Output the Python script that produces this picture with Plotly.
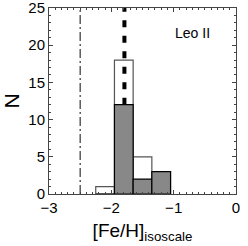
import plotly.graph_objects as go

bin_edges = [-2.25, -1.95, -1.65, -1.35, -1.05]
total_counts = [1, 18, 5, 3]
filled_counts = [0, 12, 2, 3]
mean_line_x = -1.79
dashdot_x = -2.5
label = "Leo II"

centers = [(bin_edges[i] + bin_edges[i + 1]) / 2 for i in range(len(bin_edges) - 1)]
width = bin_edges[1] - bin_edges[0]

fig = go.Figure()
fig.add_trace(go.Bar(x=centers, y=total_counts, width=width,
                     marker=dict(color="white", line=dict(color="#555", width=1.2)),
                     showlegend=False))
fig.add_trace(go.Bar(x=centers, y=filled_counts, width=width,
                     marker=dict(color="#888888", line=dict(color="black", width=1.2)),
                     showlegend=False))
fig.add_trace(go.Scatter(x=[mean_line_x, mean_line_x], y=[max(filled_counts), 25], mode="lines",
                         line=dict(color="black", width=4, dash="7px,8.5px"), showlegend=False))
fig.add_trace(go.Scatter(x=[dashdot_x, dashdot_x], y=[0, 25], mode="lines",
                         line=dict(color="#333", width=1.2, dash="9px,3px,2px,3px"), showlegend=False))

fig.add_annotation(x=-0.69, y=21.6, text=label, showarrow=False,
                   font=dict(family="Liberation Sans, Arial", size=14, color="black"))

axis_common = dict(showgrid=False, zeroline=False, showline=True, linecolor="#444", linewidth=1,
                   mirror="allticks", ticks="inside", ticklen=4, tickcolor="#444",
                   automargin=False, ticklabeloverflow="allow",
                   tickfont=dict(family="Liberation Sans, Arial", size=15, color="black"))
fig.update_xaxes(range=[-3, 0], tickvals=[-3, -2, -1, 0], ticktext=["\u22123", "\u22122", "\u22121", "0"],
                 minor=dict(dtick=0.1, ticks="inside", ticklen=2, tickcolor="#444"),
                 title=dict(text="[Fe/H]<sub>isoscale</sub>", standoff=8,
                            font=dict(family="Liberation Sans, Arial", size=19, color="black")),
                 **axis_common)
fig.update_yaxes(range=[0, 25], tickvals=[0, 5, 10, 15, 20, 25],
                 minor=dict(dtick=1, ticks="inside", ticklen=2, tickcolor="#444"),
                 title=dict(text="N", standoff=6,
                            font=dict(family="Liberation Sans, Arial", size=21, color="black")),
                 **axis_common)
fig.update_layout(width=248, height=246, barmode="overlay", bargap=0,
                  plot_bgcolor="white", paper_bgcolor="white",
                  margin=dict(l=49, r=12, t=8, b=52))
fig.write_html("out.html", config={"displayModeBar": False, "staticPlot": True},
               post_script="document.body.style.margin='0';")
